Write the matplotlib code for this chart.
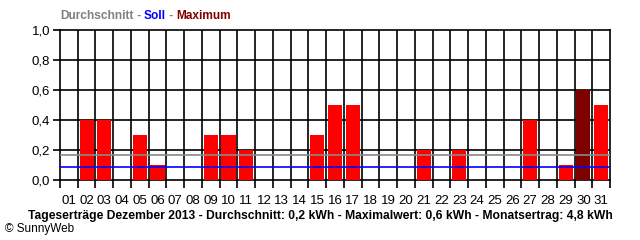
import matplotlib
matplotlib.use("Agg")
import matplotlib.pyplot as plt
import numpy as np

days = ["%02d" % d for d in range(1, 32)]
ertrag = [0, 0.4, 0.4, 0, 0.3, 0.1, 0, 0, 0.3, 0.3, 0.2, 0, 0, 0, 0.3, 0.5,
          0.5, 0, 0, 0, 0.2, 0, 0.2, 0, 0, 0, 0.4, 0, 0.1, 0.6, 0.5]
max_day = "30"
durchschnitt = 0.167
soll = 0.09
yticks = [0.0, 0.2, 0.4, 0.6, 0.8, 1.0]

plt.rcParams['font.family'] = ['Liberation Sans', 'DejaVu Sans']
fig = plt.figure(figsize=(6.4, 2.4), dpi=100)
ax = fig.add_axes([60/640, 60/240, 550/640, 150/240])

x = np.arange(1, 32)
colors = ['#800000' if d == max_day else '#ff0000' for d in days]
ax.bar(x, ertrag, width=0.8, color=colors, zorder=3)
ax.axhline(durchschnitt, color='#888888', lw=1.2, zorder=4)
ax.axhline(soll, color='#0000ff', lw=1.2, zorder=4)

ax.set_xlim(0.5, 31.5)
ax.set_ylim(0, 1.0)
for xv in np.arange(1.5, 31.5, 1):
    ax.axvline(xv, color='black', lw=1.2, zorder=1)
for yv in yticks[1:-1]:
    ax.axhline(yv, color='black', lw=1.2, zorder=1)

ax.set_xticks(np.arange(0.5, 32, 1), minor=False)
ax.set_xticklabels([])
ax.set_xticks(x, minor=True)
ax.set_xticklabels(days, minor=True, fontsize=9.5)
ax.tick_params(axis='x', which='major', length=6, width=1.2, direction='out')
ax.tick_params(axis='x', which='minor', length=0, pad=11)
ax.set_yticks(yticks)
ax.set_yticklabels([("%.1f" % v).replace('.', ',') for v in yticks], fontsize=9.5)
ax.tick_params(axis='y', length=5, width=1.2, pad=2)
for s in ax.spines.values():
    s.set_linewidth(1.2)

# Legend-like title, drawn piece by piece
parts = [("Durchschnitt", '#808080'), (" - ", '#808080'), ("Soll", '#0000ff'),
         (" - ", '#808080'), ("Maximum", '#800000')]
fig.canvas.draw()
renderer = fig.canvas.get_renderer()
xpos = 60
for txt, col in parts:
    t = fig.text(xpos/640, 1 - 16/240, txt, color=col, fontweight='bold',
                 fontsize=8.6, va='center')
    xpos += t.get_window_extent(renderer).width

fig.text(320/640, 1 - 216/240,
         "Tageserträge Dezember 2013 - Durchschnitt: 0,2 kWh - Maximalwert: 0,6 kWh - Monatsertrag: 4,8 kWh",
         ha='center', va='center', fontweight='bold', fontsize=8.7)
fig.text(5/640, 1 - 229/240, "© SunnyWeb", ha='left', va='center', fontsize=8.5)

fig.savefig("out.png", dpi=100)
